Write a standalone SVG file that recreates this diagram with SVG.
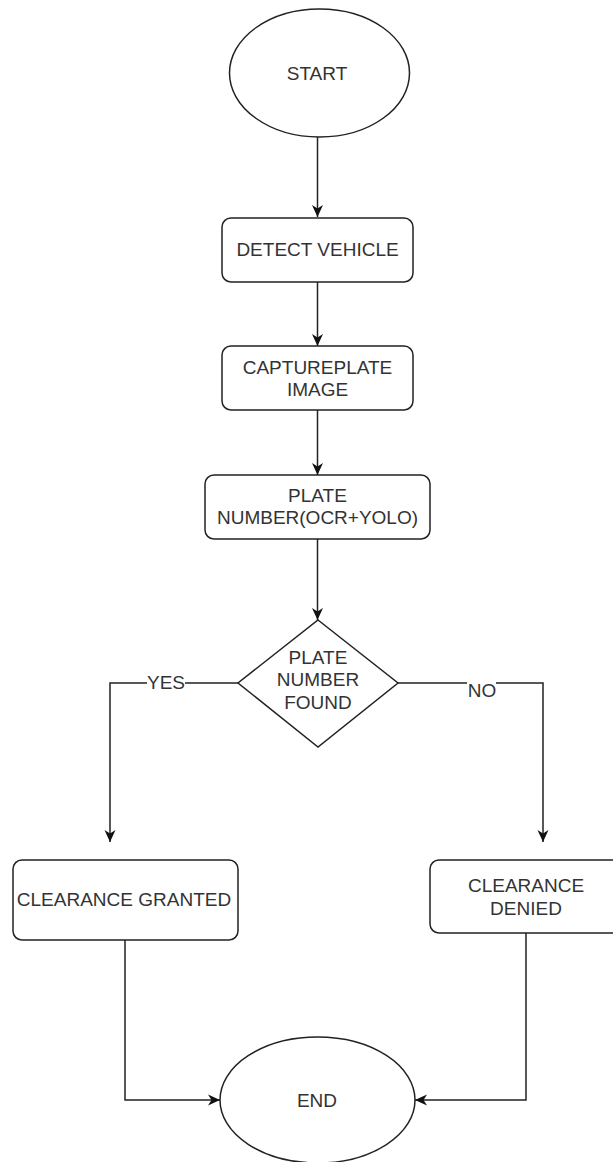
<svg xmlns="http://www.w3.org/2000/svg" width="613" height="1162" viewBox="0 0 613 1162">
<style>
.shape{fill:#fff;stroke:#222;stroke-width:1.5}
.edge{fill:none;stroke:#222;stroke-width:1.5}
text{font-family:"Liberation Sans",Arial,sans-serif;font-size:19px;fill:#333;text-anchor:middle}
.lbl{fill:#fff;stroke:none}
</style>
<defs>
<marker id="arr" viewBox="0 0 12 12" refX="12" refY="6" markerWidth="12" markerHeight="12" markerUnits="userSpaceOnUse" orient="auto">
<path d="M0,0.5 L12,6 L0,11.5 L3.5,6 Z" fill="#111"/>
</marker>
</defs>
<rect width="613" height="1162" fill="#fff"/>
<g id="connectors">
<path class="edge" d="M317.5,137 V217" marker-end="url(#arr)"/>
<path class="edge" d="M317.5,282 V346" marker-end="url(#arr)"/>
<path class="edge" d="M317.5,410 V475" marker-end="url(#arr)"/>
<path class="edge" d="M317.5,539 V620" marker-end="url(#arr)"/>
<path class="edge" d="M238,683 H110 V842" marker-end="url(#arr)"/>
<path class="edge" d="M398,683 H543 V842" marker-end="url(#arr)"/>
<path class="edge" d="M125,940 V1100 H220" marker-end="url(#arr)"/>
<path class="edge" d="M526,933 V1100 H415" marker-end="url(#arr)"/>
<rect class="lbl" x="147" y="674" width="38" height="18"/>
<text x="166" y="689">YES</text>
<rect class="lbl" x="467" y="678" width="29" height="22"/>
<text x="482" y="697">NO</text>
</g>
<g id="start">
<ellipse class="shape" cx="319.5" cy="73" rx="90" ry="64"/>
<text x="317" y="80">START</text>
</g>
<g id="detect">
<rect class="shape" x="222" y="218" width="191" height="64" rx="9"/>
<text x="317.5" y="256">DETECT VEHICLE</text>
</g>
<g id="capture">
<rect class="shape" x="222" y="346" width="191" height="64" rx="9"/>
<text x="317.5" y="373.5">CAPTUREPLATE</text>
<text x="317.5" y="396">IMAGE</text>
</g>
<g id="platenumber">
<rect class="shape" x="205" y="475" width="225" height="64" rx="9"/>
<text x="317.5" y="501.5">PLATE</text>
<text x="317.5" y="524">NUMBER(OCR+YOLO)</text>
</g>
<g id="decision">
<path class="shape" d="M318,620 L398,683 L318,747 L238,683 Z"/>
<text x="318" y="663.5">PLATE</text>
<text x="318" y="686">NUMBER</text>
<text x="318" y="708.5">FOUND</text>
</g>
<g id="granted">
<rect class="shape" x="13" y="860" width="225" height="80" rx="9"/>
<text x="124" y="906">CLEARANCE GRANTED</text>
</g>
<g id="denied">
<rect class="shape" x="430" y="860" width="192" height="73" rx="9"/>
<text x="526" y="891.5">CLEARANCE</text>
<text x="526" y="915">DENIED</text>
</g>
<g id="end">
<ellipse class="shape" cx="317.5" cy="1100" rx="97.5" ry="63"/>
<text x="317" y="1106.5">END</text>
</g>
</svg>
